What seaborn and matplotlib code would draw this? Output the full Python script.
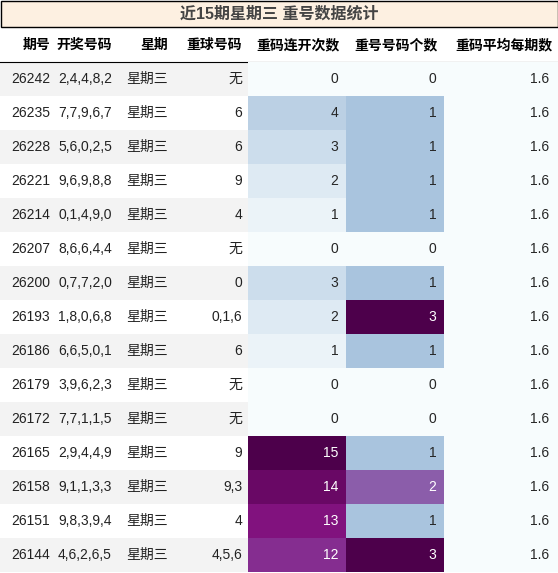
import matplotlib
matplotlib.use("Agg")
import matplotlib.pyplot as plt
import numpy as np
import seaborn as sns
from matplotlib.patches import Rectangle

# ── Datos ──────────────────────────────────────────────────────────────────────
periods = ["26242", "26235", "26228", "26221", "26214", "26207", "26200", "26193",
           "26186", "26179", "26172", "26165", "26158", "26151", "26144"]
draws = ["2,4,4,8,2", "7,7,9,6,7", "5,6,0,2,5", "9,6,9,8,8", "0,1,4,9,0",
         "8,6,6,4,4", "0,7,7,2,0", "1,8,0,6,8", "6,6,5,0,1", "3,9,6,2,3",
         "7,7,1,1,5", "2,9,4,4,9", "9,1,1,3,3", "9,8,3,9,4", "4,6,2,6,5"]
weekdays = ["星期三"] * 15
repeat_balls = ["无", "6", "6", "9", "4", "无", "0", "0,1,6", "6", "无", "无",
                "9", "9,3", "4", "4,5,6"]
streak = [0, 4, 3, 2, 1, 0, 3, 2, 1, 0, 0, 15, 14, 13, 12]
repeat_count = [0, 1, 1, 1, 1, 0, 1, 3, 1, 0, 0, 1, 2, 1, 3]
avg_per_period = [1.6] * 15

title = "近15期星期三 重号数据统计"
headers = ["期号", "开奖号码", "星期", "重球号码", "重码连开次数", "重号号码个数", "重码平均每期数"]

FONT = ["Liberation Sans", "Noto Sans CJK SC", "DejaVu Sans"]
W, H = 558, 573
TOP = 62
ROW_H = 34
edges = [0, 56, 118, 174, 248, 346, 444, 558]

fig = plt.figure(figsize=(W / 100, H / 100), dpi=100)
ax = fig.add_axes([0, 0, 1, 1])
ax.set_xlim(0, W)
ax.set_ylim(H, 0)
ax.axis("off")

# Título
ax.add_patch(Rectangle((0.5, 0.5), W - 1, 26.5, facecolor="#fdf0e1", edgecolor="black", lw=1))
ax.text(W / 2, 14, title, ha="center", va="center", fontsize=11.5, fontweight="bold",
        color="#444444", family=FONT)

# Cabecera
for i, h in enumerate(headers):
    ax.text(edges[i + 1] - 6, 45, h, ha="right", va="center", fontsize=10,
            fontweight="bold", family=FONT)
ax.plot([0, W], [TOP, TOP], color="black", lw=0.8)

# Columnas de texto
text_cols = [periods, draws, weekdays, repeat_balls]
for r in range(15):
    y0 = TOP + r * ROW_H
    if r % 2 == 0:
        ax.add_patch(Rectangle((0, y0), edges[4], ROW_H, facecolor="#f3f3f3", lw=0))
    for c, col in enumerate(text_cols):
        ax.text(edges[c + 1] - 6, y0 + ROW_H / 2, col[r], ha="right", va="center",
                fontsize=10, family=FONT, color="#222222")

# Columnas numéricas como heatmaps (normalizadas por columna)
num_cols = [(streak, ".0f"), (repeat_count, ".0f"), (avg_per_period, ".1f")]
for k, (vals, fmt) in enumerate(num_cols):
    v = np.array(vals, dtype=float).reshape(-1, 1)
    rng = v.max() - v.min()
    norm = (v - v.min()) / rng if rng > 0 else np.zeros_like(v)
    x0, x1 = edges[4 + k], edges[5 + k]
    hax = fig.add_axes([x0 / W, 1 - (TOP + 15 * ROW_H) / H, (x1 - x0) / W, 15 * ROW_H / H])
    sns.heatmap(norm, ax=hax, cmap="BuPu", vmin=0, vmax=1, cbar=False,
                annot=v, fmt=fmt, annot_kws={"fontsize": 10, "family": FONT},
                xticklabels=False, yticklabels=False)
    for t in hax.texts:
        t.set_x(0.92)
        t.set_ha("right")
    hax.axis("off")

fig.savefig("out.png", dpi=100)
